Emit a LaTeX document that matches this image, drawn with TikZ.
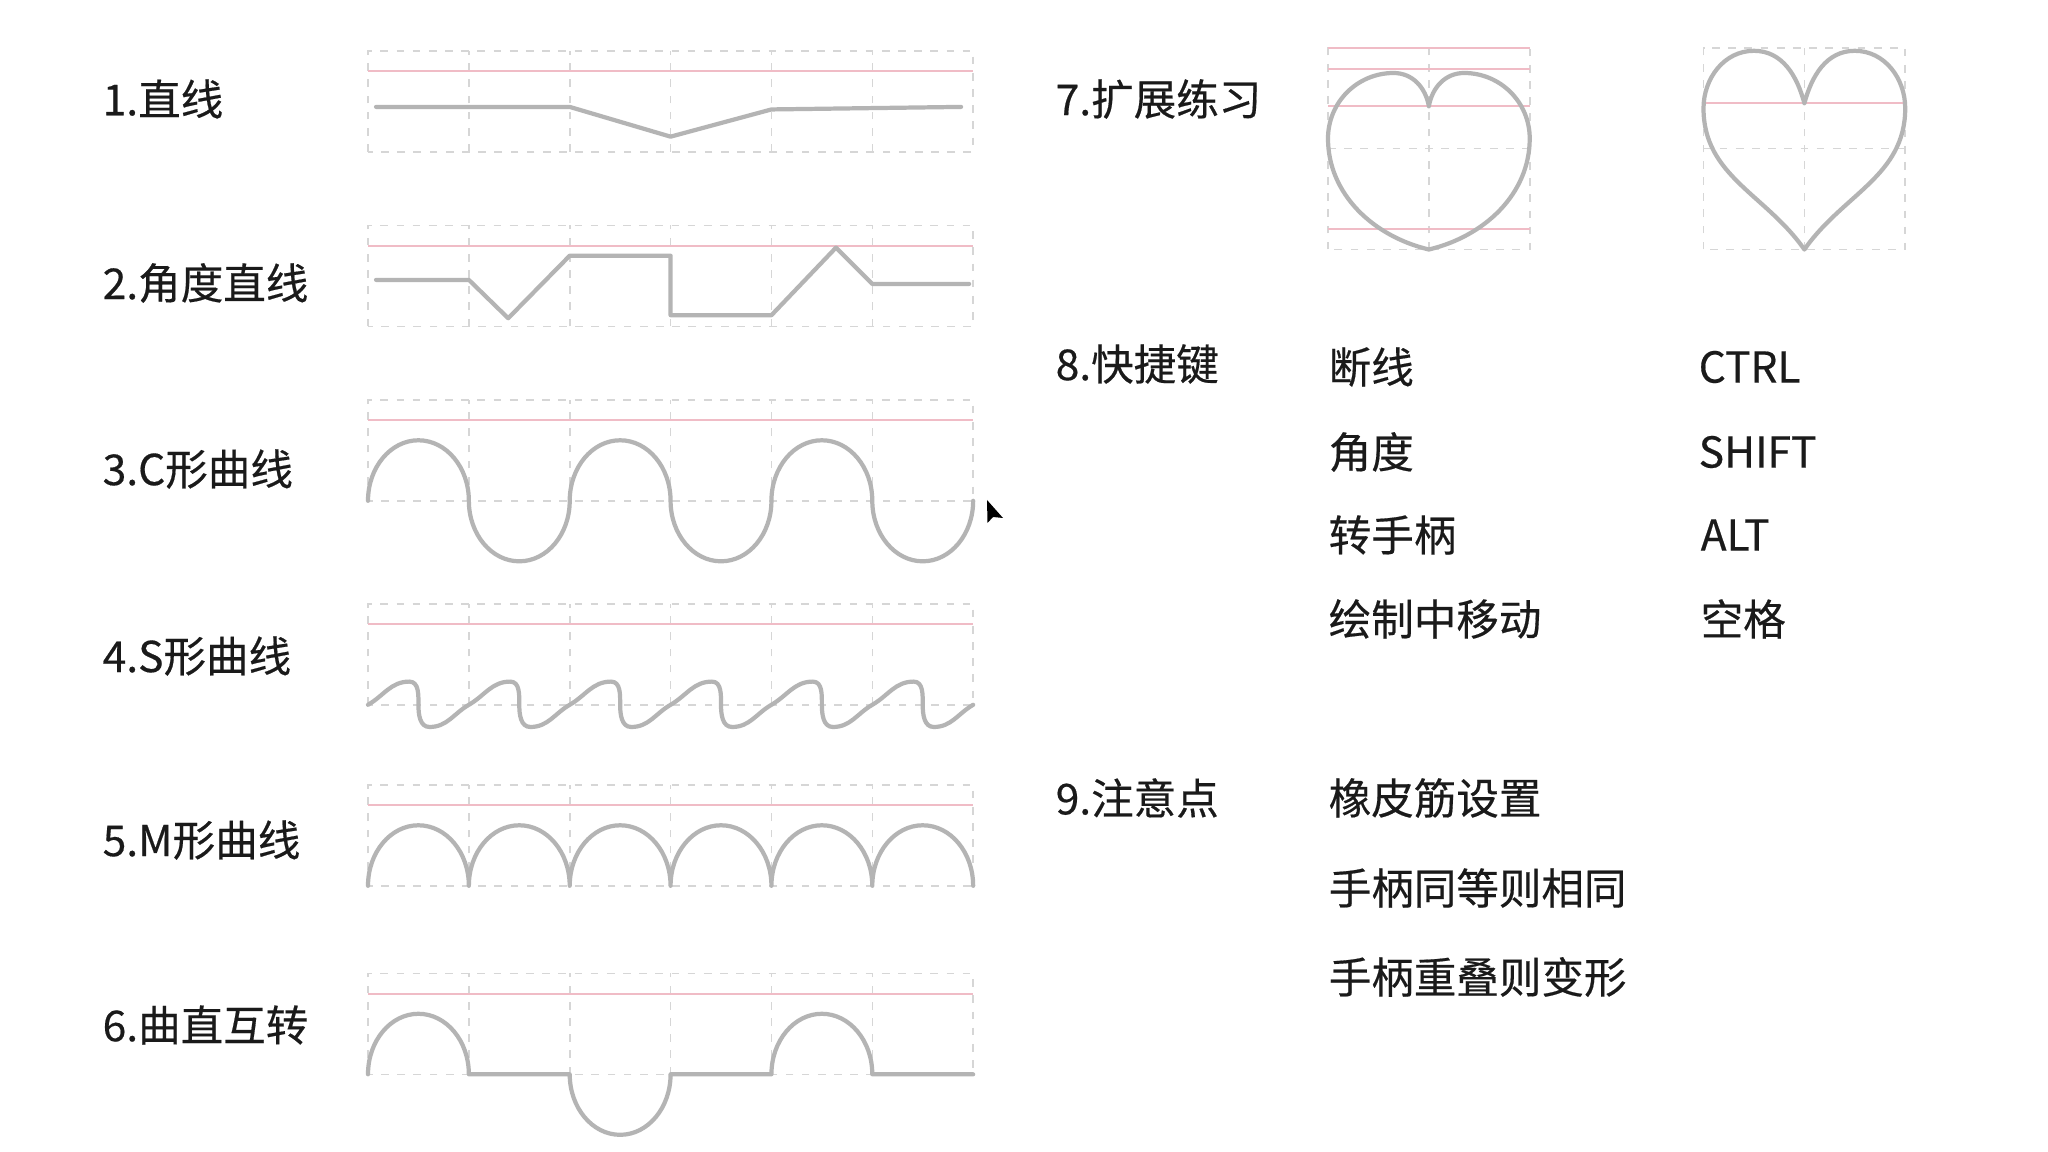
\documentclass[tikz,border=0pt]{standalone}
\usepackage{fontspec}
\newfontfamily\cjk[FakeBold=0.4]{Noto Sans CJK SC}
\definecolor{dashgray}{HTML}{D6D6D6}
\definecolor{pinkln}{HTML}{F0BCC6}
\definecolor{pengray}{HTML}{B4B4B4}
\definecolor{inkblack}{HTML}{1A1A1A}
\tikzstyle{guide}=[draw=dashgray,line width=0.45pt,dash pattern=on 2.2pt off 2.4pt]
\tikzstyle{redrule}=[draw=pinkln,line width=0.55pt]
\tikzstyle{penline}=[draw=pengray,line width=1.2pt,line join=round,line cap=round]
\tikzstyle{lbl}=[anchor=west,inner sep=0pt,text=inkblack,font=\cjk\fontsize{12.1}{14}\selectfont]

\begin{document}
\begin{tikzpicture}[x=0.01cm,y=0.01cm]
    \fill[white] (0,0) rectangle (2048,-1152);
    % practice strips
    \foreach \yb in {151.8,326.3,500.8,704.8,885.8,1074.3} {
      \begin{scope}[shift={(368,-\yb)},x=1.008cm,y=1.008cm]
        \draw[guide] (0,0) rectangle (6,1);
        \foreach \i in {1,...,5} \draw[guide] (\i,0) -- (\i,1);
        \draw[redrule] (0,0.8) -- (6,0.8);
      \end{scope}
    }
    \begin{scope}[shift={(368,-151.8)},x=1.008cm,y=1.008cm]
      \draw[penline] (0.08,0.445) -- (2,0.445) -- (3,0.15) -- (4,0.42) -- (5.88,0.445);
    \end{scope}
    \begin{scope}[shift={(368,-326.3)},x=1.008cm,y=1.008cm]
      \draw[penline] (0.08,0.46) -- (1,0.46) -- (1.39,0.08) -- (2,0.7) -- (3,0.7) -- (3,0.11)
        -- (4,0.11) -- (4.64,0.78) -- (5,0.42) -- (5.96,0.42);
    \end{scope}
    \begin{scope}[shift={(368,-500.8)},x=1.008cm,y=1.008cm]
      \draw[penline] (0,0) \foreach \k in {0,2,4} {
        arc[start angle=180,end angle=0,x radius=0.5,y radius=0.6]
        arc[start angle=180,end angle=360,x radius=0.5,y radius=0.6] };
    \end{scope}
    \begin{scope}[shift={(368,-704.8)},x=1.008cm,y=1.008cm]
      \draw[penline] (0,0) \foreach \k in {0,...,5} {
        to[out=30,in=180] (\k+0.41,0.23) to[out=0,in=90] (\k+0.5,0)
        to[out=-90,in=180] (\k+0.61,-0.22) to[out=0,in=210] (\k+1,0) };
    \end{scope}
    \begin{scope}[shift={(368,-885.8)},x=1.008cm,y=1.008cm]
      \draw[penline] (0,0) \foreach \k in {0,...,5} {
        arc[start angle=180,end angle=0,x radius=0.5,y radius=0.6] };
    \end{scope}
    \begin{scope}[shift={(368,-1074.3)},x=1.008cm,y=1.008cm]
      \draw[penline] (0,0) arc[start angle=180,end angle=0,x radius=0.5,y radius=0.6] -- (2,0)
        arc[start angle=180,end angle=360,x radius=0.5,y radius=0.6] -- (4,0)
        arc[start angle=180,end angle=0,x radius=0.5,y radius=0.6] -- (6,0);
    \end{scope}
    % hearts
    \begin{scope}[shift={(1328,-249.5)},x=1.008cm,y=1.008cm]
      \draw[guide] (0,0) rectangle (2,2);
      \draw[guide] (1,0) -- (1,2);
      \draw[guide] (0,1) -- (2,1);
      \foreach \h in {2,1.79,1.42,0.2} \draw[redrule] (0,\h) -- (2,\h);
      \draw[penline] (1,1.42) to[out=100,in=0] (0.65,1.75) to[out=180,in=90] (0,1.1)
        .. controls (0,0.55) and (0.45,0.13) .. (1,0)
        .. controls (1.55,0.13) and (2,0.55) .. (2,1.1)
        to[out=90,in=0] (1.35,1.75) to[out=180,in=80] (1,1.42);
    \end{scope}
    \begin{scope}[shift={(1703.5,-249.5)},x=1.008cm,y=1.008cm]
      \draw[guide] (0,0) rectangle (2,2);
      \draw[guide] (1,0) -- (1,2);
      \draw[guide] (0,1) -- (2,1);
      \draw[redrule] (0,1.45) -- (2,1.45);
      \draw[penline] (1,1.45) to[out=105,in=0] (0.5,1.97) to[out=180,in=90] (0,1.4)
        to[out=-90,in=125] (1,0) to[out=55,in=-90] (2,1.4)
        to[out=90,in=0] (1.5,1.97) to[out=180,in=75] (1,1.45);
    \end{scope}
    % pointer
    \fill[black] (987,-500) -- (987.5,-523) -- (993,-517) -- (1003,-518) -- cycle;
    % labels
    \node[lbl] (T1) at (102,-99) {1.直线};
    \node[lbl] (T2) at (102,-283) {2.角度直线};
    \node[lbl] (T3) at (102,-469) {3.C形曲线};
    \node[lbl] (T4) at (102,-656) {4.S形曲线};
    \node[lbl] (T5) at (102,-840) {5.M形曲线};
    \node[lbl] (T6) at (102,-1025) {6.曲直互转};
    \node[lbl] (T7) at (1055,-99) {7.扩展练习};
    \node[lbl] (T8) at (1055,-364) {8.快捷键};
    \node[lbl] (T9) at (1055,-798) {9.注意点};
    \node[lbl] (K1) at (1328,-367) {断线};
    \node[lbl] (K2) at (1328,-452) {角度};
    \node[lbl] (K3) at (1328,-535) {转手柄};
    \node[lbl] (K4) at (1328,-619) {绘制中移动};
    \node[lbl] (S1) at (1698,-367) {CTRL};
    \node[lbl] (S2) at (1698,-452) {SHIFT};
    \node[lbl] (S3) at (1700,-535) {ALT};
    \node[lbl] (S4) at (1700,-619) {空格};
    \node[lbl] (N1) at (1328,-798) {橡皮筋设置};
    \node[lbl] (N2) at (1328,-888) {手柄同等则相同};
    \node[lbl] (N3) at (1328,-977) {手柄重叠则变形};
\end{tikzpicture}
\end{document}
